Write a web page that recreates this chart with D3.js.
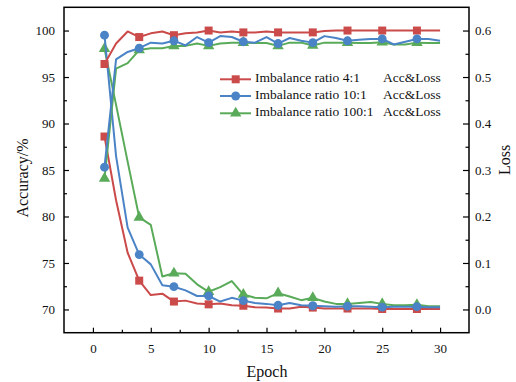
<!DOCTYPE html>
<html><head><meta charset="utf-8">
<script src="https://cdn.jsdelivr.net/npm/d3@7"></script>
<style>html,body{margin:0;padding:0;background:#fff;}svg{display:block;}</style>
</head><body>
<script>
const epochs = d3.range(1, 31);
const seriesNames = ["Imbalance ratio 4:1", "Imbalance ratio 10:1", "Imbalance ratio 100:1"];
const legendSuffix = "Acc&Loss";
const redAcc = [96.4, 98.6, 99.9, 99.3, 99.7, 99.9, 99.5, 99.7, 99.8, 100.0, 99.8, 99.9, 99.8, 99.8, 99.9, 99.8, 99.8, 99.8, 99.8, 99.95, 100, 100, 100, 100, 100, 100, 100, 100, 100, 100];
const blueAcc = [85.3, 96.9, 97.7, 98.1, 98.7, 98.6, 98.9, 98.4, 99.3, 98.7, 99.4, 99.3, 98.8, 98.7, 99.3, 98.6, 99.2, 98.9, 98.7, 99.4, 99.2, 98.9, 99.0, 99.1, 99.1, 98.5, 98.8, 99.1, 99.1, 98.9];
const greenAcc = [84.1, 95.9, 96.5, 97.9, 98.1, 98.1, 98.35, 98.35, 98.6, 98.35, 98.6, 98.7, 98.7, 98.65, 98.65, 98.35, 98.7, 98.7, 98.4, 98.7, 98.7, 98.7, 98.65, 98.65, 98.75, 98.5, 98.5, 98.7, 98.65, 98.65];
const redLoss = [0.372, 0.235, 0.122, 0.062, 0.031, 0.034, 0.017, 0.019, 0.013, 0.011, 0.013, 0.009, 0.008, 0.005, 0.004, 0.002, 0.002, 0.006, 0.004, 0.002, 0.002, 0.002, 0.002, 0.002, 0.001, 0.001, 0.001, 0.001, 0.001, 0.001];
const blueLoss = [0.590, 0.33, 0.176, 0.118, 0.097, 0.052, 0.049, 0.041, 0.029, 0.029, 0.017, 0.025, 0.019, 0.014, 0.012, 0.009, 0.014, 0.009, 0.008, 0.007, 0.006, 0.007, 0.007, 0.006, 0.005, 0.006, 0.006, 0.006, 0.005, 0.005];
const greenLoss = [0.561, 0.44, 0.318, 0.198, 0.182, 0.071, 0.078, 0.077, 0.054, 0.038, 0.048, 0.061, 0.032, 0.025, 0.024, 0.035, 0.028, 0.020, 0.025, 0.017, 0.012, 0.012, 0.014, 0.016, 0.012, 0.009, 0.009, 0.010, 0.007, 0.007];
const markerEpochs = [1, 4, 7, 10, 13, 16, 19, 22, 25, 28];
const xTicks = [0, 5, 10, 15, 20, 25, 30];
const accTicks = [70, 75, 80, 85, 90, 95, 100];
const lossTicks = [0.0, 0.1, 0.2, 0.3, 0.4, 0.5, 0.6];

const W = 516, H = 382;
const L = 64, R = 469, T = 7.3, B = 332.7;
const colors = ["#cb4a4a", "#4a83c6", "#59ab59"];
const shapes = [d3.symbolSquare, d3.symbolCircle, d3.symbolTriangle];
const sizes = [64, 62, 56];
const font = "'Liberation Serif','Times New Roman',serif";

const svg = d3.select("body").append("svg").attr("width", W).attr("height", H);
svg.append("rect").attr("width", W).attr("height", H).attr("fill", "#fff");

const x = d3.scaleLinear().domain([-2.5, 32.5]).range([L, R]);
const yA = d3.scaleLinear().domain([67.5, 102.5]).range([B, T]);
const yL = d3.scaleLinear().domain([-0.05, 0.65]).range([B, T]);

function styleAxis(g) {
  g.select(".domain").remove();
  g.selectAll("text").attr("font-family", font).attr("font-size", 13).attr("fill", "#111");
  g.selectAll("line").attr("stroke", "#000").attr("stroke-width", 1.2);
}
svg.append("g").attr("transform", `translate(0,${B})`)
  .call(d3.axisBottom(x).tickValues(xTicks).tickSize(-5).tickPadding(11).tickFormat(d3.format("d")))
  .call(styleAxis);
svg.append("g").attr("transform", `translate(0,${B})`)
  .call(d3.axisBottom(x).tickValues(d3.range(2.5, 30, 5)).tickSize(-3).tickFormat(""))
  .call(styleAxis);

svg.append("g").attr("transform", `translate(${L},0)`)
  .call(d3.axisLeft(yA).tickValues(accTicks).tickSize(-5).tickPadding(9).tickFormat(d3.format("d")))
  .call(styleAxis);
svg.append("g").attr("transform", `translate(${L},0)`)
  .call(d3.axisLeft(yA).tickValues(d3.range(72.5, 100, 5)).tickSize(-3).tickFormat(""))
  .call(styleAxis);

svg.append("g").attr("transform", `translate(${R},0)`)
  .call(d3.axisRight(yL).tickValues(lossTicks).tickSize(-6).tickPadding(6).tickFormat(d3.format(".1f")))
  .call(styleAxis);
svg.append("g").attr("transform", `translate(${R},0)`)
  .call(d3.axisRight(yL).tickValues([0.05, 0.15, 0.25, 0.35, 0.45, 0.55]).tickSize(-3.5).tickFormat(""))
  .call(styleAxis);

svg.append("rect").attr("x", L).attr("y", T).attr("width", R - L).attr("height", B - T)
  .attr("fill", "none").attr("stroke", "#000").attr("stroke-width", 1.5);

svg.append("text").attr("transform", `translate(24,178) rotate(-90)`).attr("text-anchor", "middle")
  .attr("dominant-baseline", "middle").attr("font-family", font).attr("font-size", 16).attr("fill", "#111").text("Accuracy/%");
svg.append("text").attr("transform", `translate(506,160) rotate(-90)`).attr("text-anchor", "middle")
  .attr("dominant-baseline", "middle").attr("font-family", font).attr("font-size", 16).attr("fill", "#111").text("Loss");
svg.append("text").attr("x", 267).attr("y", 377).attr("text-anchor", "middle")
  .attr("font-family", font).attr("font-size", 16).attr("fill", "#111").text("Epoch");

const accs = [redAcc, blueAcc, greenAcc];
const losses = [redLoss, blueLoss, greenLoss];
const plot = svg.append("g");

function drawSeries(vals, yScale, i) {
  const pts = epochs.map((e, k) => [e, vals[k]]);
  const line = d3.line().x(d => x(d[0])).y(d => yScale(d[1]));
  plot.append("path").datum(pts).attr("d", line).attr("fill", "none")
    .attr("stroke", colors[i]).attr("stroke-width", 2).attr("stroke-linejoin", "round");
  plot.selectAll(null).data(pts.filter(d => markerEpochs.includes(d[0]))).enter().append("path")
    .attr("d", d3.symbol().type(shapes[i]).size(sizes[i]))
    .attr("transform", d => `translate(${x(d[0])},${yScale(d[1])})`)
    .attr("fill", colors[i]);
}
[0, 2, 1].forEach(i => { drawSeries(losses[i], yL, i); });
[0, 2, 1].forEach(i => { drawSeries(accs[i], yA, i); });

const legY = [79.3, 96, 113.3];
seriesNames.forEach((name, i) => {
  const g = svg.append("g");
  g.append("line").attr("x1", 220).attr("x2", 251).attr("y1", legY[i]).attr("y2", legY[i])
    .attr("stroke", colors[i]).attr("stroke-width", 2);
  g.append("path").attr("d", d3.symbol().type(shapes[i]).size(sizes[i]))
    .attr("transform", `translate(235.7,${legY[i]})`).attr("fill", colors[i]);
  g.append("text").attr("x", 255).attr("y", legY[i]).attr("dominant-baseline", "middle")
    .attr("font-family", font).attr("font-size", 13.5).attr("fill", "#111").text(name);
  g.append("text").attr("x", 383).attr("y", legY[i]).attr("dominant-baseline", "middle")
    .attr("font-family", font).attr("font-size", 13.5).attr("fill", "#111").text(legendSuffix);
});
</script>
</body></html>
